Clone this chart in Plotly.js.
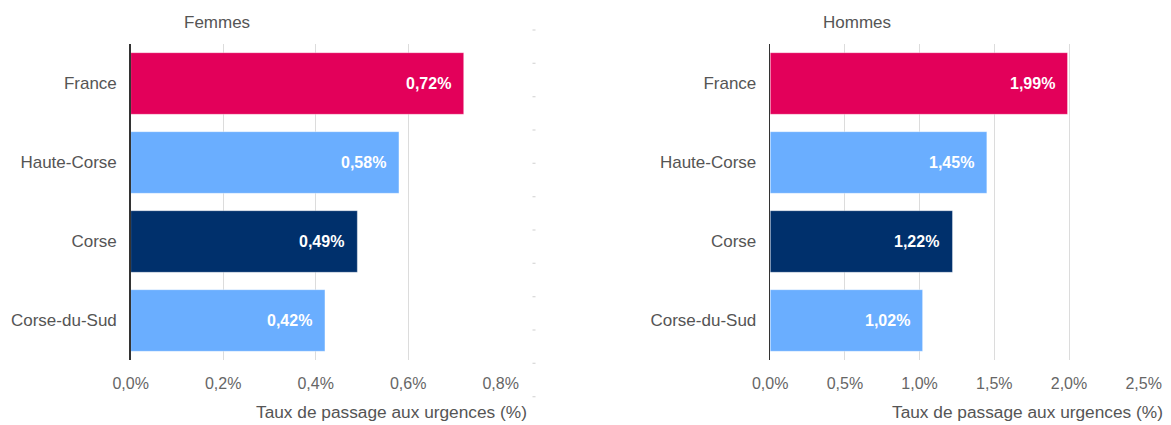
<!DOCTYPE html>
<html>
<head>
<meta charset="utf-8">
<script src="https://cdn.plot.ly/plotly-3.0.1.min.js"></script>
<style>html,body{margin:0;padding:0;background:#fff;}#chart{width:1171px;height:425px;}</style>
</head>
<body>
<div id="chart"></div>
<script>
// Data
const categories = ['France', 'Haute-Corse', 'Corse', 'Corse-du-Sud'];
const femmes = [0.72, 0.58, 0.49, 0.42];
const hommes = [1.99, 1.45, 1.22, 1.02];
const barColors = ['#e3005a', '#6aaeff', '#00306c', '#6aaeff'];
const femmesTicks = [0, 0.2, 0.4, 0.6, 0.8];
const femmesTickText = ['0,0%', '0,2%', '0,4%', '0,6%', '0,8%'];
const hommesTicks = [0, 0.5, 1.0, 1.5, 2.0, 2.5];
const hommesTickText = ['0,0%', '0,5%', '1,0%', '1,5%', '2,0%', '2,5%'];
const panelTitles = ['Femmes', 'Hommes'];
const axisTitle = 'Taux de passage aux urgences (%)';

const W = 1171, H = 425;
const FONT = 'Liberation Sans, Arial, sans-serif';
const fmt = v => v.toFixed(2).replace('.', ',') + '%';

function barTrace(vals, xa, ya) {
  return {
    type: 'bar', orientation: 'h',
    x: vals, y: categories,
    xaxis: xa, yaxis: ya,
    marker: {color: barColors, line: {color: 'rgba(255,255,255,0.35)', width: 1}},
    hoverinfo: 'x+y', showlegend: false
  };
}

const data = [barTrace(femmes, 'x', 'y'), barTrace(hommes, 'x2', 'y2')];

const annotations = [];
function addValueLabels(vals, xa, ya) {
  vals.forEach((v, i) => {
    annotations.push({
      x: v, y: categories[i], xref: xa, yref: ya,
      text: '<b>' + fmt(v) + '</b>', showarrow: false,
      xanchor: 'right', yanchor: 'middle', xshift: -11,
      font: {family: FONT, size: 16, color: '#ffffff'}
    });
  });
}
addValueLabels(femmes, 'x', 'y');
addValueLabels(hommes, 'x2', 'y2');

const leftDom = [130.7 / W, 500.7 / W];
const rightDom = [770.2 / W, 1143.7 / W];

// panel titles
annotations.push({xref: 'paper', yref: 'paper', x: (130.7 + 51) / W, y: 1.067, xanchor: 'left', yanchor: 'middle',
  text: panelTitles[0], showarrow: false, font: {family: FONT, size: 17, color: '#555'}});
annotations.push({xref: 'paper', yref: 'paper', x: (770.2 + 51) / W, y: 1.067, xanchor: 'left', yanchor: 'middle',
  text: panelTitles[1], showarrow: false, font: {family: FONT, size: 17, color: '#555'}});
// axis titles
const axTitleY = (360 - 412) / 316;
annotations.push({xref: 'paper', yref: 'paper', x: 528 / W, y: axTitleY, xanchor: 'right', yanchor: 'middle',
  text: axisTitle, showarrow: false, borderpad: 0, font: {family: FONT, size: 17.3, color: '#555'}});
annotations.push({xref: 'paper', yref: 'paper', x: 1164 / W, y: axTitleY, xanchor: 'right', yanchor: 'middle',
  text: axisTitle, showarrow: false, borderpad: 0, font: {family: FONT, size: 17.3, color: '#555'}});

function xAxis(dom, ticks, ticktext, anchor) {
  return {
    domain: dom, anchor: anchor,
    range: [0, ticks[ticks.length - 1]],
    tickmode: 'array', tickvals: ticks, ticktext: ticktext,
    showgrid: true, gridcolor: '#dcdcdc', gridwidth: 1,
    zeroline: false, showline: false, ticks: '',
    ticklabelstandoff: 12,
    tickfont: {family: FONT, size: 16, color: '#666'},
    fixedrange: true
  };
}
function yAxis(anchor) {
  return {
    domain: [0, 1], anchor: anchor,
    autorange: 'reversed', type: 'category',
    showline: true, linecolor: '#333', linewidth: 1.5,
    showgrid: false, zeroline: false, ticks: '',
    ticklabelstandoff: 9,
    tickfont: {family: FONT, size: 17, color: '#555'},
    fixedrange: true
  };
}

const layout = {
  width: W, height: H,
  margin: {l: 0, r: 0, t: 44, b: 65},
  paper_bgcolor: '#fff', plot_bgcolor: '#fff',
  bargap: 0.22,
  font: {family: FONT},
  xaxis: xAxis(leftDom, femmesTicks, femmesTickText, 'y'),
  yaxis: yAxis('x'),
  xaxis2: xAxis(rightDom, hommesTicks, hommesTickText, 'y2'),
  yaxis2: yAxis('x2'),
  annotations: annotations,
  shapes: [{
    type: 'line', xref: 'paper', yref: 'paper',
    x0: 534 / W, x1: 534 / W, y0: (360 - 29.5) / 316, y1: (360 - 410) / 316,
    line: {color: '#cfcfcf', width: 3, dash: '1px,32.33px'}
  }]
};

Plotly.newPlot('chart', data, layout, {displayModeBar: false, staticPlot: true});
</script>
</body>
</html>
